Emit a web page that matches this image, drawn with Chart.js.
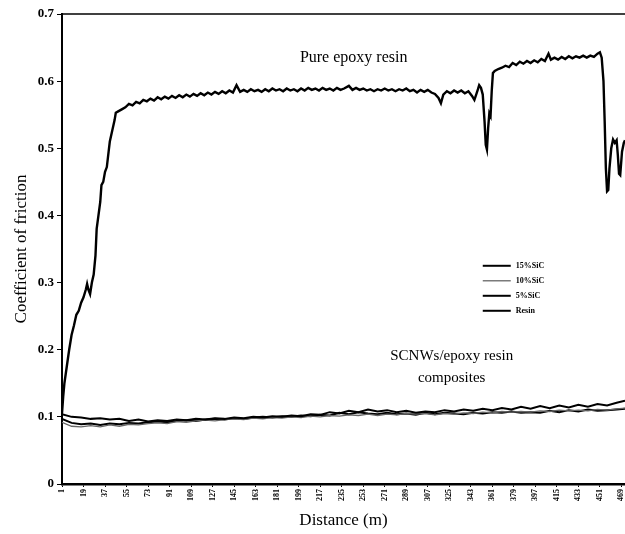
<!DOCTYPE html>
<html>
<head>
<meta charset="utf-8">
<script src="https://cdn.jsdelivr.net/npm/chart.js@4/dist/chart.umd.min.js"></script>
<style>
  html, body { margin: 0; padding: 0; background: #fff; }
  #wrap { width: 625px; height: 534px; }
</style>
</head>
<body>
<div id="wrap"><canvas id="myChart" width="625" height="534"></canvas></div>
<script>
// x tick labels (distance, m)
var xTicks = [1, 19, 37, 55, 73, 91, 109, 127, 145, 163, 181, 199, 217, 235, 253,
  271, 289, 307, 325, 343, 361, 379, 397, 415, 433, 451, 469];
var yTicks = [0, 0.1, 0.2, 0.3, 0.4, 0.5, 0.6, 0.7];

// composites sampled at these distances
var sicDist = [1, 9, 17, 25, 33, 41, 49, 57, 65, 73, 81, 89, 97, 105, 113, 121, 129, 137, 145, 153,
  161, 169, 177, 185, 193, 201, 209, 217, 225, 233, 241, 249, 257, 265, 273, 281, 289, 297, 305, 313,
  321, 329, 337, 345, 353, 361, 369, 377, 385, 393, 401, 409, 417, 425, 433, 441, 449, 457, 465, 472];

var sic15 = [0.104, 0.100, 0.099, 0.097, 0.098, 0.096, 0.097, 0.094, 0.096, 0.093,
  0.095, 0.094, 0.096, 0.095, 0.097, 0.096, 0.098, 0.097, 0.099, 0.098,
  0.100, 0.099, 0.101, 0.100, 0.102, 0.101, 0.104, 0.103, 0.107, 0.105,
  0.109, 0.107, 0.111, 0.108, 0.110, 0.107, 0.109, 0.106, 0.108, 0.107,
  0.110, 0.108, 0.111, 0.109, 0.112, 0.110, 0.113, 0.111, 0.115, 0.112,
  0.116, 0.113, 0.117, 0.114, 0.118, 0.115, 0.119, 0.117, 0.121, 0.124];

var sic10 = [0.092, 0.086, 0.085, 0.087, 0.085, 0.088, 0.086, 0.089, 0.088, 0.090,
  0.091, 0.090, 0.093, 0.092, 0.094, 0.095, 0.094, 0.096, 0.097, 0.096,
  0.098, 0.097, 0.099, 0.098, 0.100, 0.099, 0.101, 0.100, 0.102, 0.101,
  0.103, 0.102, 0.104, 0.102, 0.104, 0.103, 0.105, 0.104, 0.105, 0.103,
  0.105, 0.104, 0.106, 0.105, 0.107, 0.106, 0.108, 0.107, 0.108, 0.107,
  0.109, 0.108, 0.110, 0.109, 0.110, 0.109, 0.111, 0.110, 0.112, 0.113];

var sic5 = [0.097, 0.091, 0.089, 0.090, 0.088, 0.090, 0.089, 0.091, 0.090, 0.092,
  0.093, 0.092, 0.094, 0.095, 0.094, 0.096, 0.097, 0.096, 0.098, 0.097,
  0.099, 0.100, 0.099, 0.101, 0.100, 0.102, 0.101, 0.103, 0.102, 0.106,
  0.104, 0.107, 0.105, 0.104, 0.106, 0.104, 0.105, 0.103, 0.106, 0.104,
  0.106, 0.105, 0.104, 0.106, 0.105, 0.107, 0.106, 0.108, 0.106, 0.107,
  0.106, 0.109, 0.107, 0.110, 0.108, 0.111, 0.109, 0.110, 0.111, 0.112];

// pure resin
var resinDist = [1, 2, 3, 5, 7, 9, 11, 13, 15, 17, 19, 21, 22, 23, 24.5, 26, 27.5, 29, 30, 31.5,
  33, 34, 35.5, 37, 38.5, 40, 41, 43, 45, 46, 48, 51, 54, 57, 60, 63, 66, 69, 72, 75,
  78, 81, 84, 87, 90, 93, 96, 99, 102, 105, 108, 111, 114, 117, 120, 123, 126, 129, 132, 135,
  138, 141, 144, 147, 150, 153, 156, 159, 162, 165, 168, 171, 174, 177, 180, 183, 186, 189, 192, 195,
  198, 201, 204, 207, 210, 213, 216, 219, 222, 225, 228, 231, 234, 237, 241, 244, 247, 250, 253, 256,
  259, 262, 265, 268, 271, 274, 277, 280, 283, 286, 289, 292, 295, 298, 301, 304, 307, 310, 313, 316,
  318, 320, 323, 326, 329, 332, 335, 338, 341, 344, 346, 347.5, 349, 350, 351.5, 353, 354.5, 355.5, 356.5, 357.5,
  358.5, 359.5, 360.5, 361.5, 363, 366, 369, 372, 375, 378, 381, 384, 387, 390, 393, 396, 399, 402, 405, 408,
  410, 413, 416, 419, 422, 425, 428, 431, 434, 437, 440, 443, 446, 449, 451, 452.5, 454, 455, 456, 457,
  458, 459, 460.5, 462, 463.5, 465, 466, 467, 468, 469.5, 471, 472];

var resinCof = [0.105, 0.130, 0.150, 0.175, 0.200, 0.222, 0.236, 0.252, 0.258, 0.270, 0.278, 0.290, 0.298, 0.290, 0.283, 0.300, 0.312, 0.340, 0.380, 0.400,
  0.420, 0.445, 0.450, 0.465, 0.472, 0.495, 0.510, 0.526, 0.542, 0.553, 0.555, 0.558, 0.561, 0.566, 0.564, 0.569, 0.567, 0.572, 0.570, 0.574,
  0.571, 0.576, 0.573, 0.577, 0.574, 0.578, 0.575, 0.579, 0.576, 0.580, 0.577, 0.581, 0.578, 0.582, 0.579, 0.583, 0.580, 0.584, 0.581, 0.585,
  0.582, 0.586, 0.583, 0.594, 0.584, 0.587, 0.584, 0.588, 0.585, 0.587, 0.584, 0.588, 0.585, 0.589, 0.586, 0.588, 0.585, 0.589, 0.586, 0.588,
  0.585, 0.589, 0.586, 0.590, 0.587, 0.589, 0.586, 0.590, 0.587, 0.589, 0.586, 0.590, 0.587, 0.589, 0.593, 0.587, 0.590, 0.587, 0.589, 0.586,
  0.588, 0.585, 0.588, 0.586, 0.589, 0.586, 0.588, 0.585, 0.588, 0.586, 0.589, 0.585, 0.587, 0.583, 0.587, 0.584, 0.587, 0.583, 0.581, 0.575,
  0.567, 0.580, 0.585, 0.582, 0.586, 0.583, 0.586, 0.582, 0.585, 0.578, 0.572, 0.580, 0.588, 0.594, 0.590, 0.580, 0.540, 0.505, 0.498, 0.530,
  0.552, 0.548, 0.585, 0.612, 0.615, 0.618, 0.620, 0.623, 0.621, 0.627, 0.624, 0.629, 0.626, 0.630, 0.627, 0.631, 0.628, 0.633, 0.630, 0.641,
  0.632, 0.635, 0.632, 0.636, 0.633, 0.637, 0.634, 0.637, 0.635, 0.638, 0.635, 0.638, 0.636, 0.641, 0.643, 0.635, 0.600, 0.540, 0.470, 0.436,
  0.438, 0.470, 0.500, 0.513, 0.508, 0.512, 0.490, 0.462, 0.460, 0.495, 0.508, 0.512];

function pts(xs, ys) {
  return xs.map(function(x, i) { return {x: x, y: ys[i]}; });
}

var serif = 'Liberation Serif';

// frame line on top + text notes + legend inside the plot
var extras = {
  id: 'extras',
  afterDraw: function(chart) {
    var c = chart.ctx, a = chart.chartArea;
    var xs = chart.scales.x, ys = chart.scales.y;
    c.save();
    c.strokeStyle = '#000';
    c.lineWidth = 1.5;
    c.beginPath();
    c.moveTo(a.left, a.top);
    c.lineTo(a.right, a.top);
    c.stroke();

    c.fillStyle = '#000';
    c.textAlign = 'center';
    c.textBaseline = 'middle';
    c.font = '16px "' + serif + '"';
    c.fillText('Pure epoxy resin', xs.getPixelForValue(245), ys.getPixelForValue(0.635));
    c.font = '15px "' + serif + '"';
    c.fillText('SCNWs/epoxy resin', xs.getPixelForValue(327), ys.getPixelForValue(0.19));
    c.fillText('composites', xs.getPixelForValue(327), ys.getPixelForValue(0.158));

    // legend
    var lx = xs.getPixelForValue(353), ly = ys.getPixelForValue(0.325);
    c.textAlign = 'left';
    c.font = 'bold 8px "' + serif + '"';
    chart.data.datasets.forEach(function(ds, i) {
      var y = ly + i * 15;
      c.strokeStyle = ds.borderColor;
      c.lineWidth = Math.min(ds.borderWidth, 2);
      c.beginPath();
      c.moveTo(lx, y);
      c.lineTo(lx + 28, y);
      c.stroke();
      c.fillText(ds.label, lx + 33, y);
    });
    c.restore();
  }
};

var ctx = document.getElementById('myChart').getContext('2d');
var chart = new Chart(ctx, {
  type: 'line',
  data: {
    datasets: [
      { label: '15%SiC', data: pts(sicDist, sic15), borderColor: '#000', borderWidth: 2 },
      { label: '10%SiC', data: pts(sicDist, sic10), borderColor: '#666', borderWidth: 1.3 },
      { label: '5%SiC', data: pts(sicDist, sic5), borderColor: '#000', borderWidth: 2 },
      { label: 'Resin', data: pts(resinDist, resinCof), borderColor: '#000', borderWidth: 2.4 }
    ]
  },
  options: {
    responsive: false,
    animation: false,
    devicePixelRatio: 1,
    layout: { padding: { top: 14, right: 0, left: 0, bottom: 0 } },
    elements: { point: { radius: 0 }, line: { tension: 0 } },
    plugins: { legend: { display: false }, tooltip: { enabled: false } },
    scales: {
      x: {
        type: 'linear',
        min: 1,
        max: 472,
        afterBuildTicks: function(scale) {
          scale.ticks = xTicks.map(function(v) { return {value: v}; });
        },
        afterFit: function(scale) {
          scale.height = 50;
          scale.paddingRight = 0;
          scale.paddingLeft = 0;
        },
        ticks: {
          autoSkip: false, maxRotation: 90, minRotation: 90, padding: 2,
          color: '#000', font: { family: serif, size: 8, weight: 'bold' }
        },
        grid: { drawOnChartArea: false, drawTicks: true, tickLength: 3, color: '#000' },
        border: { color: '#000', width: 2.5 },
        title: {
          display: true, text: 'Distance (m)', color: '#000',
          font: { family: serif, size: 17 }, padding: { top: 0, bottom: 3 }
        }
      },
      y: {
        min: 0,
        max: 0.7,
        afterBuildTicks: function(scale) {
          scale.ticks = yTicks.map(function(v) { return {value: v}; });
        },
        afterFit: function(scale) {
          scale.width = 62;
          scale.paddingTop = 0;
          scale.paddingBottom = 0;
        },
        ticks: { color: '#000', padding: 3, font: { family: serif, size: 13, weight: 'bold' } },
        grid: { drawOnChartArea: false, drawTicks: true, tickLength: 5, color: '#000' },
        border: { color: '#000', width: 2 },
        title: {
          display: true, text: 'Coefficient of friction', color: '#000',
          font: { family: serif, size: 17 }, padding: { top: 11, bottom: 0 }
        }
      }
    }
  },
  plugins: [extras]
});
</script>
</body>
</html>
